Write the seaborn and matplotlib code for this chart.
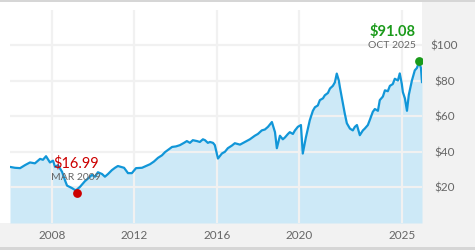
import matplotlib
matplotlib.use("Agg")
import matplotlib.pyplot as plt
import seaborn as sns
import pandas as pd
from matplotlib.patches import Rectangle

# ---- data (decimal year, price) ----
years = [2005.96, 2006.20, 2006.45, 2006.69, 2006.93, 2007.17, 2007.42, 2007.56, 2007.71, 2007.90,
         2008.05, 2008.15, 2008.29, 2008.49, 2008.63, 2008.73, 2008.97, 2009.12, 2009.21, 2009.36,
         2009.60, 2009.75, 2009.94, 2010.09, 2010.23, 2010.43, 2010.57, 2010.72, 2010.91, 2011.06,
         2011.20, 2011.35, 2011.50, 2011.69, 2011.88, 2012.08, 2012.37, 2012.56, 2012.76, 2012.95,
         2013.15, 2013.34, 2013.49, 2013.63, 2013.83, 2014.02, 2014.21, 2014.41, 2014.55, 2014.70,
         2014.84, 2015.04, 2015.18, 2015.33, 2015.43, 2015.57, 2015.67, 2015.82, 2015.91, 2016.06,
         2016.25, 2016.40, 2016.54, 2016.74, 2016.88, 2017.13, 2017.37, 2017.61, 2017.85, 2018.00,
         2018.19, 2018.34, 2018.49, 2018.68, 2018.78, 2018.83, 2018.92, 2019.07, 2019.21, 2019.31,
         2019.46, 2019.55, 2019.70, 2019.80, 2019.94, 2020.09, 2020.18, 2020.33, 2020.52, 2020.67,
         2020.77, 2020.91, 2021.01, 2021.16, 2021.25, 2021.40, 2021.50, 2021.64, 2021.74, 2021.83,
         2021.93, 2021.98, 2022.13, 2022.22, 2022.32, 2022.47, 2022.61, 2022.71, 2022.81, 2022.95,
         2023.10, 2023.19, 2023.34, 2023.44, 2023.58, 2023.68, 2023.83, 2023.92, 2024.07, 2024.17,
         2024.31, 2024.41, 2024.55, 2024.65, 2024.80, 2024.89, 2024.99, 2025.04, 2025.14, 2025.24,
         2025.33, 2025.48, 2025.62, 2025.72, 2025.83, 2025.92, 2025.97]
prices = [31.5, 31.0, 30.8, 32.5, 34.0, 33.5, 36.0, 35.5, 37.5, 34.0,
          35.0, 31.5, 32.5, 28.7, 24.0, 21.0, 19.6, 18.5, 18.8, 20.3,
          23.5, 25.0, 27.0, 26.0, 28.5, 27.5, 26.0, 27.5, 29.7, 31.0,
          32.0, 31.5, 31.0, 28.0, 28.0, 30.8, 31.0, 32.0, 33.0, 34.5,
          36.6, 38.0, 39.8, 41.0, 42.7, 43.0, 43.7, 45.0, 46.0, 45.0,
          46.5, 46.0, 45.5, 47.0, 46.5, 45.0, 45.5, 45.0, 43.7, 36.2,
          39.0, 40.0, 42.0, 43.5, 44.8, 44.0, 45.5, 47.0, 49.0, 50.0,
          52.0, 52.5, 54.0, 56.7, 53.0, 51.0, 42.0, 49.0, 47.0, 48.0,
          50.0, 51.0, 50.0, 52.0, 54.0, 55.0, 39.0, 48.0, 57.7, 63.0,
          65.0, 66.0, 69.0, 70.0, 71.7, 73.0, 75.5, 77.0, 79.0, 83.9,
          80.0, 76.4, 67.0, 61.4, 56.0, 53.0, 52.0, 54.0, 55.0, 49.3,
          52.0, 53.0, 55.0, 58.0, 62.4, 64.0, 63.0, 69.0, 71.0, 74.5,
          74.0, 77.0, 78.0, 81.0, 80.0, 84.0, 78.0, 73.5, 70.0, 63.0,
          72.0, 80.0, 85.7, 87.0, 90.4, 87.0, 79.0]

y_ticks = [20, 40, 60, 80, 100]
y_tick_labels = ["$20", "$40", "$60", "$80", "$100"]
x_ticks = [2008, 2012, 2016, 2020, 2025]
x_tick_labels = ["2008", "2012", "2016", "2020", "2025"]

low_year, low_price, low_label, low_date = 2009.21, 16.99, "$16.99", "MAR 2009"
high_year, high_price, high_label, high_date = 2025.83, 91.08, "$91.08", "OCT 2025"

df = pd.DataFrame({"year": years, "price": prices})

# ---- style ----
sns.set_style("white")
plt.rcParams["font.family"] = ["Lato", "DejaVu Sans"]

LINE = "#1196d8"
FILL = "#cde9f7"
GRID = "#f1f1f1"
TXT = "#666666"

fig = plt.figure(figsize=(4.75, 2.5), dpi=100, facecolor="white")
# background panels (behind the axes)
for (x0, y0, w, h, c) in [(422 / 475, 0, 1, 1, "#f2f2f2"),
                          (0, 0, 1, 27 / 250, "#f2f2f2"),
                          (0, 248 / 250, 1, 2 / 250, "#d6d6d6"),
                          (0, 0, 1, 3 / 250, "#d6d6d6")]:
    fig.patches.append(Rectangle((x0, y0), w, h, transform=fig.transFigure,
                                 facecolor=c, edgecolor="none", zorder=-5))

ax = fig.add_axes([10 / 475, 27 / 250, 412 / 475, 213 / 250])
ax.set_zorder(1)
ax.set_facecolor("white")

ax.fill_between(df["year"], df["price"], 0, color=FILL, linewidth=0, zorder=1)
sns.lineplot(data=df, x="year", y="price", ax=ax, color=LINE, linewidth=1.6, zorder=3)

ax.set_xlim(2005.96, 2025.97)
ax.set_ylim(0, 119.6)

ax.set_xticks(x_ticks)
ax.set_xticklabels(x_tick_labels)
ax.set_yticks(y_ticks)
ax.set_yticklabels(y_tick_labels)
ax.yaxis.tick_right()
ax.grid(True, color=GRID, linewidth=1.6)
ax.set_axisbelow(False)
for line in ax.get_xgridlines() + ax.get_ygridlines():
    line.set_zorder(2)
ax.tick_params(axis="both", length=0, labelsize=8.5, labelcolor=TXT)
ax.tick_params(axis="y", pad=16)
ax.tick_params(axis="x", pad=5)
for lab in ax.get_yticklabels():
    lab.set_horizontalalignment("center")
for s in ax.spines.values():
    s.set_visible(False)
ax.set_xlabel("")
ax.set_ylabel("")

# markers & annotations
ax.scatter([low_year], [low_price], s=40, color="#cc0000", zorder=5, linewidths=0)
ax.scatter([high_year], [high_price], s=40, color="#1a9a1a", zorder=5, linewidths=0)
ax.text(2009.19, 33.6, low_label, color="#cc0000", fontsize=10.5, ha="center", va="center", zorder=6)
ax.text(2009.17, 25.8, low_date, color=TXT, fontsize=7.5, ha="center", va="center", zorder=6)
ax.text(2024.55, 107.6, high_label, color="#1a9a1a", fontsize=10.5, ha="center", va="center",
        fontweight="bold", zorder=6)
ax.text(2024.50, 99.7, high_date, color=TXT, fontsize=7.5, ha="center", va="center", zorder=6)

fig.savefig("out.png", dpi=100, facecolor=fig.get_facecolor())
